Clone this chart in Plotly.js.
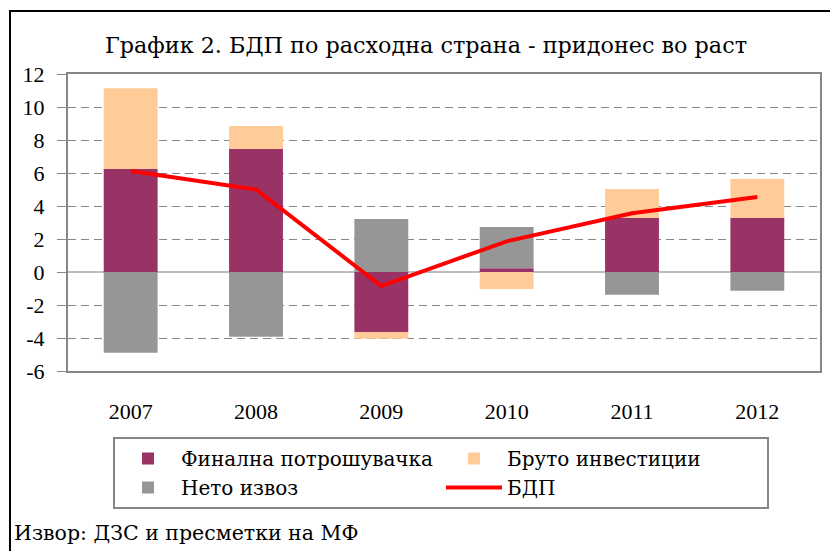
<!DOCTYPE html>
<html>
<head>
<meta charset="utf-8">
<script src="https://cdn.plot.ly/plotly-3.0.1.min.js"></script>
<style>
html,body{margin:0;padding:0;background:#fff;}
#wrap{position:absolute;left:0;top:0;width:830px;height:551px;}
#frame{position:absolute;left:9px;top:10px;width:840px;height:600px;border-left:2px solid #000;border-top:2px solid #000;pointer-events:none;}
#chart{position:absolute;left:0;top:0;width:830px;height:551px;}
</style>
</head>
<body>
<div id="wrap"><div id="chart"></div><div id="frame"></div></div>
<script>
const years = ['2007','2008','2009','2010','2011','2012'];
const finalConsumption = [6.24, 7.45, -3.64, 0.22, 3.27, 3.27];
const grossInvestment = [4.9, 1.4, -0.4, -1.03, 1.76, 2.37];
const netExports = [-4.89, -3.92, 3.21, 2.5, -1.38, -1.13];
const gdp = [6.12, 5.0, -0.85, 1.86, 3.56, 4.54];

const seriesNames = ['Финална потрошувачка', 'Бруто инвестиции', 'Нето извоз', 'БДП'];
const yTicks = [-6, -4, -2, 0, 2, 4, 6, 8, 10, 12];

const NUMFONT = 'Liberation Serif, Times New Roman, serif';
const TXTFONT = 'DejaVu Serif, serif';

const traces = [
  {type:'bar', name:seriesNames[0], x:years, y:finalConsumption, marker:{color:'#993366'}},
  {type:'bar', name:seriesNames[1], x:years, y:grossInvestment, marker:{color:'#FFCC99'}},
  {type:'bar', name:seriesNames[2], x:years, y:netExports, marker:{color:'#969696'}},
  {type:'scatter', mode:'lines', name:seriesNames[3], x:years, y:gdp, line:{color:'#FF0000', width:4}}
];

const layout = {
  width:830, height:551,
  margin:{l:68, r:10, t:74, b:180, pad:0, autoexpand:false},
  paper_bgcolor:'#ffffff', plot_bgcolor:'#ffffff',
  font:{family:NUMFONT, size:22, color:'#000'},
  barmode:'relative',
  bargap:0.57,
  showlegend:true,
  title:{text:'График 2. БДП по расходна страна - придонес во раст', font:{family:TXTFONT, size:22.3, color:'#000'},
         x:(426-68)/752, xanchor:'center', xref:'paper', y:1-45/551, yref:'container', yanchor:'middle'},
  xaxis:{type:'category', range:[-0.5,5.5], showgrid:false, zeroline:false,
         showline:true, mirror:true, linecolor:'#868686', linewidth:2,
         ticks:'', ticklabelstandoff:20, tickfont:{family:NUMFONT, size:22}, fixedrange:true},
  yaxis:{range:[-6,12], tickvals:yTicks, ticktext:yTicks.map(String),
         showgrid:true, gridcolor:'#868686', gridwidth:1, griddash:'8px,5px',
         zeroline:true, zerolinecolor:'#BDBDBD', zerolinewidth:2,
         showline:true, mirror:true, linecolor:'#868686', linewidth:2,
         ticks:'outside', ticklen:9, tickcolor:'#868686', tickwidth:1,
         ticklabelstandoff:8, tickfont:{family:NUMFONT, size:22}, fixedrange:true},
  legend:{orientation:'h', x:(113-68)/752, xanchor:'left', y:(371-437)/297, yanchor:'top',
          bordercolor:'#868686', borderwidth:2, bgcolor:'#fff',
          font:{family:TXTFONT, size:20}, entrywidth:255, entrywidthmode:'pixels',
          itemwidth:56, traceorder:'normal', tracegroupgap:0},
  annotations:[
    {text:'Извор: ДЗС и пресметки на МФ', xref:'paper', yref:'paper', x:(12-68)/752, xanchor:'left',
     y:(371-533)/297, yanchor:'middle', showarrow:false, font:{family:TXTFONT, size:20.5, color:'#000'}}
  ]
};

Plotly.newPlot('chart', traces, layout, {displayModeBar:false, staticPlot:true});
</script>
</body>
</html>
